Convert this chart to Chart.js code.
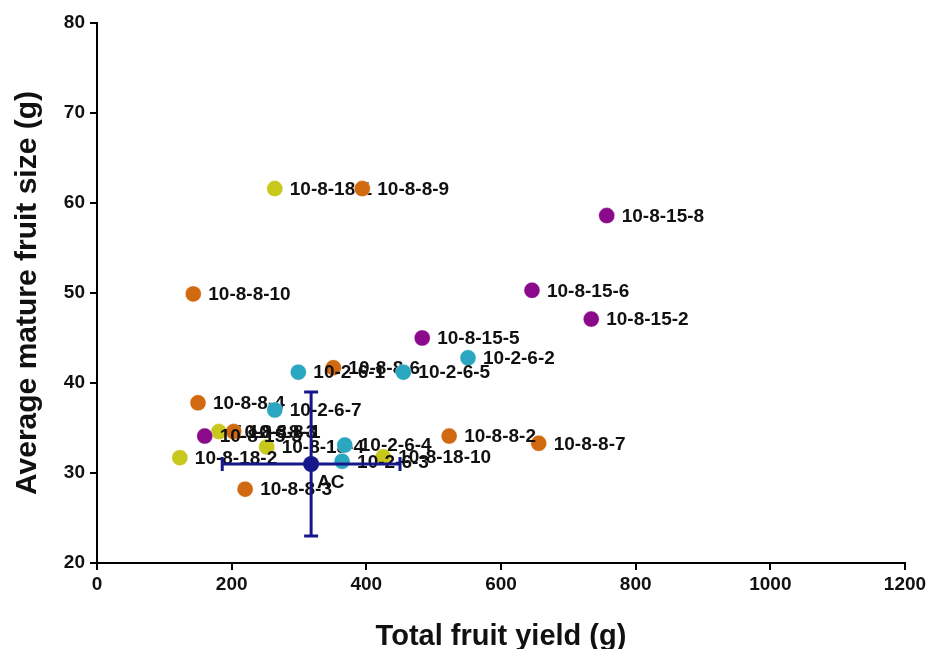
<!DOCTYPE html>
<html>
<head>
<meta charset="utf-8">
<script src="https://cdn.jsdelivr.net/npm/chart.js@4.4.1/dist/chart.umd.min.js"></script>
<style>
html,body{margin:0;padding:0;background:#fff;}
#wrap{width:927px;height:649px;}
</style>
</head>
<body>
<div id="wrap"><canvas id="c" width="927" height="649"></canvas></div>
<script>
// ---- data ----
const xTicks = [0, 200, 400, 600, 800, 1000, 1200];
const yTicks = [20, 30, 40, 50, 60, 70, 80];

const yellowLabels = ["10-8-18-1", "10-8-18-2", "10-8-18-10", "10-8-18-3", "10-8-18-4"];
const yellowX = [264, 123, 425, 181, 252];
const yellowY = [61.6, 31.7, 31.8, 34.6, 32.9];

const orangeLabels = ["10-8-8-9", "10-8-8-10", "10-8-8-4", "10-8-8-6", "10-8-8-2", "10-8-8-7", "10-8-8-3", "10-8-8-1"];
const orangeX = [394, 143, 150, 351, 523, 656, 220, 203];
const orangeY = [61.6, 49.9, 37.8, 41.7, 34.1, 33.3, 28.2, 34.6];

const cyanLabels = ["10-2-6-2", "10-2-6-5", "10-2-6-1", "10-2-6-7", "10-2-6-4", "10-2-6-3"];
const cyanX = [551, 455, 299, 264, 368, 364];
const cyanY = [42.8, 41.2, 41.2, 37.0, 33.1, 31.3];

const purpleLabels = ["10-8-15-8", "10-8-15-6", "10-8-15-2", "10-8-15-5", "10-8-15-3"];
const purpleX = [757, 646, 734, 483, 160];
const purpleY = [58.6, 50.3, 47.1, 45.0, 34.1];

const acLabels = ["AC"];
const acX = [318];
const acY = [31];
const acXErr = [132];
const acYErr = [8];

// ---- build ----
function pts(xs, ys){ return xs.map((x,i)=>({x:x, y:ys[i]})); }

const FONT = "'Liberation Sans', Arial, sans-serif";

const groups = [
  {label:'AC', data: pts(acX, acY), names: acLabels, color:'#17178c', ac:true},
  {label:'10-8-15', data: pts(purpleX, purpleY), names: purpleLabels, color:'#8b0a8b'},
  {label:'10-2-6', data: pts(cyanX, cyanY), names: cyanLabels, color:'#2aa6c1'},
  {label:'10-8-8', data: pts(orangeX, orangeY), names: orangeLabels, color:'#d0690f'},
  {label:'10-8-18', data: pts(yellowX, yellowY), names: yellowLabels, color:'#c8c81c'}
];

const labelPlugin = {
  id:'pointLabels',
  afterDatasetDraw(chart, args){
    const ds = chart.data.datasets[args.index];
    const meta = args.meta;
    const ctx = chart.ctx;
    const xs = chart.scales.x, ys = chart.scales.y;
    ctx.save();
    if (ds.isAC) {
      ds.data.forEach((p,i)=>{
        const cx = xs.getPixelForValue(p.x), cy = ys.getPixelForValue(p.y);
        const x0 = xs.getPixelForValue(p.x - acXErr[i]), x1 = xs.getPixelForValue(p.x + acXErr[i]);
        const y0 = ys.getPixelForValue(p.y + acYErr[i]), y1 = ys.getPixelForValue(p.y - acYErr[i]);
        ctx.strokeStyle = ds.backgroundColor;
        ctx.lineWidth = 3;
        ctx.beginPath();
        ctx.moveTo(x0, cy); ctx.lineTo(x1, cy);
        ctx.moveTo(cx, y0); ctx.lineTo(cx, y1);
        ctx.moveTo(x0, cy-7); ctx.lineTo(x0, cy+7);
        ctx.moveTo(x1, cy-7); ctx.lineTo(x1, cy+7);
        ctx.moveTo(cx-7, y0); ctx.lineTo(cx+7, y0);
        ctx.moveTo(cx-7, y1); ctx.lineTo(cx+7, y1);
        ctx.stroke();
        ctx.fillStyle = ds.backgroundColor;
        ctx.beginPath(); ctx.arc(cx, cy, 8, 0, Math.PI*2); ctx.fill();
        ctx.fillStyle = '#111';
        ctx.font = "bold 19px " + FONT;
        ctx.textAlign = 'left'; ctx.textBaseline = 'top';
        ctx.fillText(ds.names[i], cx + 6, cy + 9);
      });
    } else {
      ctx.fillStyle = '#111';
      ctx.font = "bold 19px " + FONT;
      ctx.textAlign = 'left'; ctx.textBaseline = 'middle';
      meta.data.forEach((el,i)=>{
        ctx.fillText(ds.names[i], el.x + 15, el.y + 1);
      });
    }
    ctx.restore();
  }
};

const datasets = groups.map(g => ({
  label: g.label,
  data: g.data,
  names: g.names,
  isAC: !!g.ac,
  backgroundColor: g.color,
  borderColor: g.ac ? g.color : 'rgba(255,255,255,0.35)',
  borderWidth: g.ac ? 0 : 1,
  pointRadius: g.ac ? 0 : 8,
  pointHoverRadius: g.ac ? 0 : 8
}));

new Chart(document.getElementById('c'), {
  type: 'scatter',
  data: { datasets },
  plugins: [labelPlugin],
  options: {
    responsive: false,
    animation: false,
    events: [],
    layout: { padding: { top: 23, right: 22, left: 0, bottom: 0 } },
    plugins: { legend: { display: false }, tooltip: { enabled: false } },
    scales: {
      x: {
        type: 'linear',
        min: 0, max: 1200,
        afterBuildTicks(s){ s.ticks = xTicks.map(v=>({value:v})); },
        afterFit(s){ s.height = 86; s.paddingRight = 0; s.paddingLeft = 0; },
        grid: { drawOnChartArea: false, drawTicks: true, tickLength: 7, color: '#000', lineWidth: 2 },
        border: { display: true, color: '#000', width: 2 },
        ticks: { color: '#111', font: { family: FONT, size: 19, weight: 'bold' }, padding: 3, maxRotation: 0,
          callback: v => String(v) },
        title: { display: true, text: 'Total fruit yield (g)', color: '#111',
          font: { family: FONT, size: 29, weight: 'bold', lineHeight: 0.8 }, padding: { top: 0, bottom: 0 } }
      },
      y: {
        type: 'linear',
        min: 20, max: 80,
        afterBuildTicks(s){ s.ticks = yTicks.map(v=>({value:v})); },
        afterFit(s){ s.width = 97; s.paddingTop = 0; s.paddingBottom = 0; },
        grid: { drawOnChartArea: false, drawTicks: true, tickLength: 7, color: '#000', lineWidth: 2 },
        border: { display: true, color: '#000', width: 2 },
        ticks: { color: '#111', font: { family: FONT, size: 19, weight: 'bold' }, padding: 5,
          callback: v => String(v) },
        title: { display: true, text: 'Average mature fruit size (g)', color: '#111',
          font: { family: FONT, size: 30, weight: 'bold', lineHeight: 1 }, padding: { top: 13, bottom: 0 } }
      }
    }
  }
});
</script>
</body>
</html>
